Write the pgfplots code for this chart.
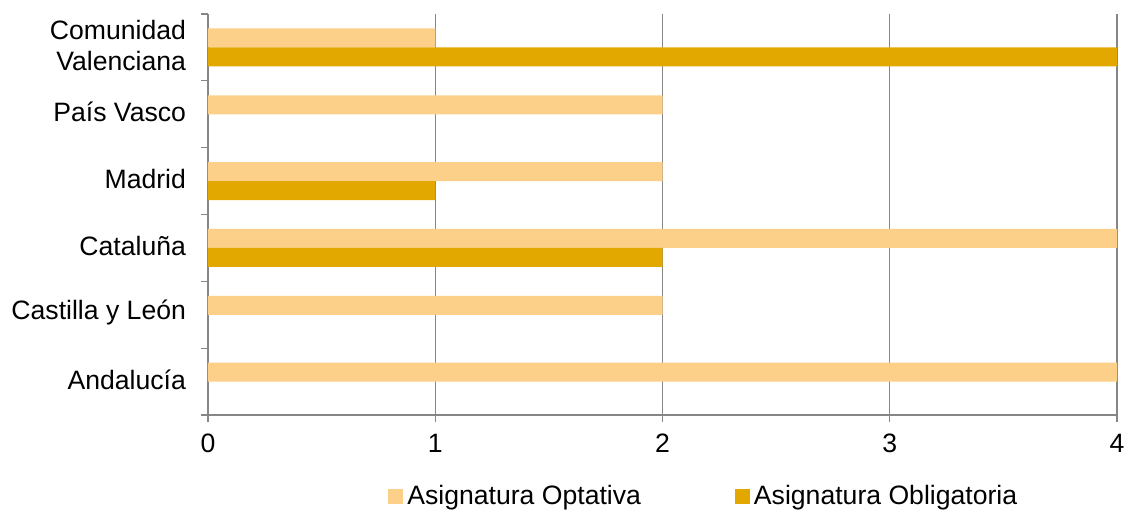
\documentclass[border=0pt]{standalone}
\usepackage{fontspec}
\setmainfont{Liberation Sans}
\usepackage{pgfplots}
\pgfplotsset{compat=1.18}

\definecolor{optativa}{RGB}{253,208,137}
\definecolor{obligatoria}{RGB}{226,168,0}
\definecolor{axisgray}{RGB}{134,134,134}

\newcommand{\chartfont}{\fontsize{13.3}{15.8}\selectfont}

\begin{document}
\begin{tikzpicture}
\begin{axis}[
    scale only axis,
    width=454.5pt, height=200.5pt,
    xbar, bar width=9.5pt,
    xmin=0, xmax=4,
    ymin=-0.5, ymax=5.5,
    xtick={0,1,2,3,4},
    % category boundaries carry the tick marks
    ytick={-0.5,0.5,1.5,2.5,3.5,4.5,5.5},
    yticklabels={},
    % category names sit at the centres, with no tick marks
    extra y ticks={0,1,2,3,4,5},
    extra y tick labels={Andalucía, Castilla y León, Cataluña, Madrid, País Vasco, {Comunidad\\Valenciana}},
    extra y tick style={major tick length=0pt, ytick style={draw=none},
        yticklabel style={align=right, xshift=-7.5pt, yshift=1pt}},
    /pgf/number format/assume math mode=true,
    tick label style={font=\chartfont, text=black},
    xticklabel style={yshift=-2.5pt},
    tick align=outside,
    major tick length=3.5pt,
    tick style={draw=axisgray, line width=0.6pt},
    axis x line*=bottom, axis y line*=left,
    axis line style={draw=axisgray, line width=0.6pt},
    xmajorgrids,
    grid style={draw=axisgray, line width=0.6pt},
    legend columns=2,
    legend style={at={(0.198,-0.202)}, anchor=west, draw=none, inner sep=0pt,
        font=\chartfont, column sep=0pt,
        /tikz/every even column/.append style={column sep=45pt}},
    legend image code/.code={\fill[#1] (0pt,-3.75pt) rectangle (7.5pt,3.75pt);},
]
\addplot[draw=none, fill=optativa, bar shift=4.75pt] coordinates {
    (4,0) (2,1) (4,2) (2,3) (2,4) (1,5)
};
\addplot[draw=none, fill=obligatoria, bar shift=-4.75pt] coordinates {
    (2,2) (1,3) (4,5)
};
\legend{Asignatura Optativa, Asignatura Obligatoria}
\end{axis}
\pgfresetboundingbox
\path[use as bounding box] (-104pt,-47.5pt) rectangle (458pt,207.5pt);
\end{tikzpicture}
\end{document}
